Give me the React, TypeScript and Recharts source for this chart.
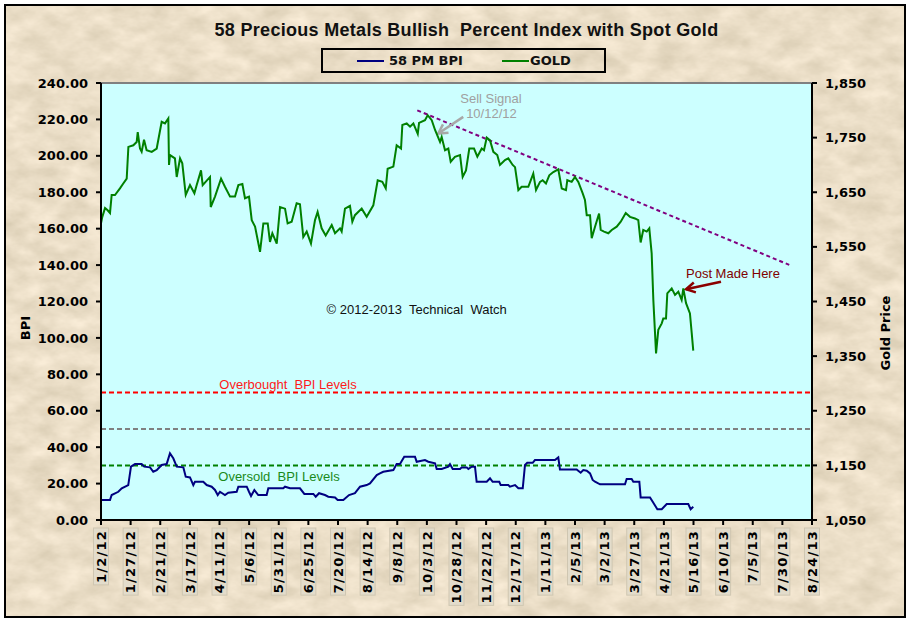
import React from 'react';
import { LineChart, Line, XAxis, YAxis, CartesianGrid, ReferenceLine, ReferenceDot } from 'recharts';

// ---------- data ----------
const titleText = '58 Precious Metals Bullish  Percent Index with Spot Gold';
const seriesNames = ['58 PM BPI', 'GOLD'];

// x axis: days since 1/2/12
const tickDays = [0, 25, 50, 75, 100, 125, 150, 175, 200, 225, 250, 275, 300, 325, 350, 375, 400, 425, 450, 475, 500, 525, 550, 575, 600];
const tickLabels = ['1/2/12', '1/27/12', '2/21/12', '3/17/12', '4/11/12', '5/6/12', '5/31/12', '6/25/12', '7/20/12', '8/14/12', '9/8/12', '10/3/12', '10/28/12', '11/22/12', '12/17/12', '1/11/13', '2/5/13', '3/2/13', '3/27/13', '4/21/13', '5/16/13', '6/10/13', '7/5/13', '7/30/13', '8/24/13'];
const bpiTicks = [0, 20, 40, 60, 80, 100, 120, 140, 160, 180, 200, 220, 240];
const goldTicks = [1050, 1150, 1250, 1350, 1450, 1550, 1650, 1750, 1850];

const goldDays = [0, 1.1, 3.4, 5.6, 7.6, 9.0, 11.8, 16.0, 18.8, 21.7, 23.1, 27.3, 30.1, 31.0, 32.9, 34.3, 36.3, 38.5, 42.8, 47.0, 51.2, 54.0, 56.8, 57.4, 58.2, 62.4, 63.9, 66.7, 68.6, 71.5, 75.1, 78.8, 80.7, 84.4, 85.8, 92.0, 92.6, 96.2, 101.3, 104.6, 108.9, 113.1, 115.9, 119.3, 121.5, 124.9, 127.2, 130.0, 134.2, 137.0, 140.7, 142.6, 144.6, 148.3, 151.1, 155.3, 157.5, 160.9, 165.1, 167.9, 170.7, 173.6, 177.2, 180.6, 182.8, 186.2, 189.6, 194.7, 197.5, 201.7, 203.1, 205.9, 210.1, 212.1, 214.3, 220.0, 224.2, 229.8, 233.5, 237.4, 240.3, 241.9, 246.7, 249.5, 253.2, 254.3, 258.0, 260.8, 263.6, 267.3, 268.4, 273.4, 275.7, 279.1, 281.9, 286.1, 287.5, 290.3, 293.1, 295.1, 298.7, 303.0, 305.2, 308.0, 310.8, 314.8, 317.6, 321.3, 323.2, 325.5, 328.3, 331.1, 334.4, 336.7, 340.9, 343.7, 347.4, 349.4, 352.2, 355.0, 360.6, 364.8, 367.1, 370.5, 372.7, 375.5, 378.3, 381.7, 385.9, 388.8, 392.4, 393.5, 397.2, 400.0, 402.8, 406.5, 408.4, 409.9, 412.7, 414.1, 416.9, 420.3, 421.7, 424.5, 428.1, 431.0, 435.2, 438.6, 442.8, 446.4, 450.6, 453.4, 455.4, 457.6, 460.5, 462.7, 464.7, 466.1, 468.4, 470.3, 473.2, 474.5, 476.8, 477.9, 481.6, 484.4, 487.2, 490.0, 491.4, 493.7, 497.0, 498.5, 499.8];
const goldValues = [1593, 1605, 1621, 1617, 1612, 1645, 1645, 1657, 1666, 1675, 1733, 1736, 1742, 1760, 1730, 1724, 1746, 1727, 1724, 1730, 1779, 1776, 1785, 1700, 1718, 1712, 1678, 1712, 1703, 1645, 1663, 1648, 1663, 1690, 1663, 1678, 1623, 1642, 1675, 1660, 1642, 1642, 1663, 1665, 1639, 1642, 1599, 1587, 1541, 1593, 1593, 1559, 1575, 1556, 1623, 1620, 1593, 1596, 1630, 1628, 1568, 1578, 1556, 1599, 1614, 1584, 1571, 1590, 1575, 1584, 1578, 1620, 1625, 1596, 1608, 1620, 1605, 1626, 1672, 1669, 1657, 1693, 1697, 1736, 1730, 1773, 1776, 1770, 1776, 1757, 1777, 1782, 1791, 1782, 1764, 1742, 1751, 1727, 1730, 1706, 1715, 1718, 1678, 1690, 1730, 1730, 1715, 1730, 1727, 1750, 1745, 1724, 1718, 1700, 1709, 1712, 1700, 1696, 1654, 1660, 1660, 1684, 1654, 1669, 1672, 1666, 1681, 1687, 1692, 1657, 1654, 1672, 1669, 1678, 1669, 1648, 1636, 1608, 1608, 1566, 1587, 1611, 1581, 1578, 1575, 1581, 1587, 1596, 1612, 1605, 1602, 1599, 1558, 1581, 1578, 1584, 1538, 1453, 1355, 1398, 1410, 1419, 1419, 1465, 1474, 1462, 1468, 1453, 1474, 1447, 1428, 1392, 1360];

const bpiDays = [0, 7.6, 9.0, 14.6, 17.5, 23.0, 25.3, 28.7, 34.3, 36.5, 41.4, 44.1, 47.0, 51.2, 55.4, 58.2, 61.0, 63.9, 69.5, 71.5, 75.1, 77.9, 79.3, 86.3, 89.2, 93.4, 96.2, 98.5, 100.4, 104.6, 107.4, 114.5, 115.9, 123.0, 124.9, 126.6, 129.4, 132.7, 139.8, 141.2, 153.8, 155.3, 159.5, 167.9, 171.6, 179.2, 181.2, 184.0, 189.0, 191.8, 197.5, 199.7, 204.5, 209.3, 214.3, 218.6, 224.2, 227.0, 232.7, 235.4, 238.2, 246.7, 249.5, 252.3, 255.9, 265.0, 266.4, 273.4, 276.2, 281.9, 283.3, 287.5, 293.1, 294.5, 296.8, 303.0, 304.4, 308.6, 310.0, 312.8, 315.6, 317.0, 325.5, 328.3, 330.5, 336.1, 337.3, 343.7, 345.1, 349.4, 352.2, 355.9, 357.8, 359.7, 364.3, 366.2, 383.1, 385.9, 387.3, 401.4, 404.8, 407.0, 409.9, 412.7, 414.9, 416.9, 421.1, 442.2, 443.6, 447.8, 449.2, 454.3, 455.4, 463.3, 466.1, 469.5, 473.2, 477.4, 495.6, 497.6, 499.8];
const bpiValues = [11.0, 11.0, 13.7, 15.5, 17.4, 19.2, 29.3, 30.7, 30.7, 29.3, 28.9, 26.5, 27.4, 30.2, 30.7, 36.6, 33.9, 29.3, 28.9, 23.8, 23.4, 19.2, 21.0, 21.0, 19.2, 18.3, 16.5, 13.7, 15.5, 13.7, 15.0, 15.5, 18.3, 18.3, 15.5, 13.2, 16.5, 13.7, 13.7, 17.4, 17.4, 18.3, 17.4, 17.4, 14.3, 14.3, 12.8, 14.7, 13.7, 12.8, 12.4, 11.0, 11.0, 13.7, 14.7, 18.3, 19.2, 20.1, 24.7, 25.6, 26.5, 27.4, 30.7, 30.7, 34.7, 34.7, 32.0, 32.9, 32.0, 31.1, 28.0, 28.0, 29.3, 30.7, 28.0, 28.0, 28.9, 28.9, 28.0, 29.3, 29.3, 21.0, 21.0, 22.9, 21.0, 21.0, 19.2, 19.2, 18.3, 19.2, 17.4, 17.4, 30.2, 31.4, 31.4, 32.9, 32.9, 34.4, 27.8, 27.8, 26.0, 27.4, 27.1, 25.6, 22.0, 21.0, 19.6, 19.6, 22.5, 22.5, 21.0, 21.0, 12.4, 12.4, 9.5, 5.9, 5.9, 8.8, 8.8, 5.9, 7.3];

// BPI reference levels
const overbought = 70;
const neutral = 50;
const oversold = 30;

// gold resistance trend line (day, price)
const trendStart = { x: 266.9, y: 1800 };
const trendEnd = { x: 580.8, y: 1517 };

// ---------- derived tables ----------
const goldData = goldDays.map((d, i) => ({ day: d, gold: goldValues[i] }));
const bpiData = bpiDays.map((d, i) => ({ day: d, bpi: bpiValues[i] }));

const SANS = 'Liberation Sans, Arial, sans-serif';
const VERD = 'DejaVu Sans, Verdana, sans-serif';

const estWidth = (s: string) => {
  let w = 0;
  for (const ch of s) w += (ch === '/' ? 0.365 : 0.696) * 13 + 1.2;
  return w;
};

const XTick = (props: any) => {
  const { x, y, payload } = props;
  const i = tickDays.indexOf(payload.value);
  const label = tickLabels[i] ?? '';
  const w = estWidth(label);
  return (
    <g transform={`translate(${x},${y})`}>
      <rect x={-7.5} y={-2} width={15} height={w + 4} fill="#e3dccb" stroke="#cfc6b1" strokeWidth={1} />
      <text transform="rotate(-90)" x={0} y={0} dy="0.36em" textAnchor="end" fill="#000" fontSize={13}
        fontWeight="bold" fontFamily={VERD} style={{ letterSpacing: '1.2px' }}>{label}</text>
    </g>
  );
};

const textLabel = (value: string, color: string, size = 13) => (p: any) => {
  const vb = p.viewBox || {};
  const cx = (vb.x ?? 0) + (vb.width ?? 0) / 2;
  const cy = (vb.y ?? 0) + (vb.height ?? 0) / 2;
  return (
    <text x={cx} y={cy} textAnchor="middle" dominantBaseline="central" fill={color} fontSize={size}
      fontFamily={SANS} style={{ whiteSpace: 'pre' }}>{value}</text>
  );
};

const arrowShape = (color: string) => (p: any) => {
  const { x1, y1, x2, y2 } = p;
  if ([x1, y1, x2, y2].some((v) => typeof v !== 'number' || isNaN(v))) return <g />;
  const a = Math.atan2(y2 - y1, x2 - x1);
  const L = 9, W = 5;
  const bx = x2 - L * Math.cos(a), by = y2 - L * Math.sin(a);
  const px = -Math.sin(a) * W, py = Math.cos(a) * W;
  return (
    <g>
      <line x1={x1} y1={y1} x2={x2} y2={y2} stroke={color} strokeWidth={2.5} />
      <polyline points={`${bx + px},${by + py} ${x2},${y2} ${bx - px},${by - py}`} fill="none" stroke={color} strokeWidth={2.5} />
    </g>
  );
};

const yTickStyle = { fill: '#000', fontSize: 13, fontWeight: 'bold', fontFamily: VERD } as any;

export default function App() {
  return (
    <div style={{ position: 'absolute', left: 0, top: 0, width: 910, height: 621, background: '#fff', overflow: 'hidden' }}>
      <svg width={910} height={621} style={{ position: 'absolute', left: 0, top: 0 }}>
        <defs>
          <filter id="parch" x="0" y="0" width="100%" height="100%" colorInterpolationFilters="sRGB">
            <feTurbulence type="fractalNoise" baseFrequency="0.035 0.06" numOctaves={4} seed={7} result="n" />
            <feColorMatrix in="n" type="matrix"
              values="0.16 0 0 0 0.84  0.16 0 0 0 0.79  0.18 0 0 0 0.69  0 0 0 0 1" />
          </filter>
        </defs>
        <rect x={5} y={5} width={900} height={612} fill="#ebe0c8" filter="url(#parch)" />
        <rect x={5} y={5} width={900} height={612} fill="none" stroke="#000" strokeWidth={2} />
        <text x={466.5} y={29.5} textAnchor="middle" dominantBaseline="central" fontFamily={SANS} fontWeight="bold"
          fontSize={18} fill="#111" style={{ whiteSpace: 'pre', letterSpacing: '0.3px' }}>{titleText}</text>
      </svg>

      {/* legend */}
      <div style={{
        position: 'absolute', left: 321, top: 48, width: 285, height: 25, boxSizing: 'border-box',
        border: '2px solid #000', fontFamily: VERD, fontWeight: 'bold', fontSize: 13, color: '#111',
      }}>
        <div style={{ position: 'absolute', left: 34, top: 10, width: 27, height: 2, background: '#000080' }} />
        <div style={{ position: 'absolute', left: 66, top: 2, lineHeight: '17px', whiteSpace: 'pre' }}>{seriesNames[0]}</div>
        <div style={{ position: 'absolute', left: 179, top: 10, width: 27, height: 2, background: '#008000' }} />
        <div style={{ position: 'absolute', left: 207, top: 2, lineHeight: '17px', whiteSpace: 'pre' }}>{seriesNames[1]}</div>
      </div>

      <div style={{ position: 'absolute', left: 0, top: 0 }}>
        <LineChart width={910} height={621} margin={{ top: 83, right: 38, bottom: 41, left: 41 }}>
          <CartesianGrid yAxisId="left" horizontal={false} vertical={false} fill="#ccffff" fillOpacity={1} stroke="none" />
          <XAxis dataKey="day" type="number" domain={[0, 600]} ticks={tickDays} interval={0} allowDataOverflow
            height={60} tick={<XTick />} tickSize={5} tickMargin={5}
            axisLine={{ stroke: '#000', strokeWidth: 2 }} tickLine={{ stroke: '#000', strokeWidth: 2 }} />
          <YAxis yAxisId="left" orientation="left" domain={[0, 240]} ticks={bpiTicks} interval={0} width={60}
            tickFormatter={(v: number) => v.toFixed(2)} tick={yTickStyle} tickSize={5} tickMargin={8}
            axisLine={{ stroke: '#000', strokeWidth: 2 }} tickLine={{ stroke: '#000', strokeWidth: 2 }}
            label={(p: any) => (
              <text x={25} y={328} transform="rotate(-90 25 328)" textAnchor="middle" dominantBaseline="central"
                fontFamily={VERD} fontWeight="bold" fontSize={13} fill="#000">BPI</text>
            )} />
          <YAxis yAxisId="right" orientation="right" domain={[1050, 1850]} ticks={goldTicks} interval={0} width={60}
            tickFormatter={(v: number) => v.toLocaleString('en-US')} tick={yTickStyle} tickSize={5} tickMargin={8}
            axisLine={{ stroke: '#000', strokeWidth: 2 }} tickLine={{ stroke: '#000', strokeWidth: 2 }}
            label={(p: any) => (
              <text x={885} y={333} transform="rotate(-90 885 333)" textAnchor="middle" dominantBaseline="central"
                fontFamily={VERD} fontWeight="bold" fontSize={13} fill="#000">Gold Price</text>
            )} />

          <ReferenceLine yAxisId="left" y={240} stroke="#808080" strokeWidth={2} />
          <ReferenceLine yAxisId="left" y={overbought} stroke="#ff0000" strokeWidth={2} strokeDasharray="5 3" />
          <ReferenceLine yAxisId="left" y={neutral} stroke="#808080" strokeWidth={2} strokeDasharray="5 3" />
          <ReferenceLine yAxisId="left" y={oversold} stroke="#008000" strokeWidth={2} strokeDasharray="5 3" />

          <ReferenceLine yAxisId="right" segment={[trendStart, trendEnd]} stroke="#800080" strokeWidth={2}
            strokeDasharray="4 3" ifOverflow="visible" />
          <ReferenceLine yAxisId="right" segment={[{ x: 305.7, y: 1788 }, { x: 284.6, y: 1757.5 }]}
            stroke="#a8a8a8" shape={arrowShape('#a8a8a8')} ifOverflow="visible" />
          <ReferenceLine yAxisId="right" segment={[{ x: 523.2, y: 1486 }, { x: 493.7, y: 1472.3 }]}
            stroke="#8b0000" shape={arrowShape('#8b0000')} ifOverflow="visible" />

          <Line yAxisId="left" data={bpiData} dataKey="bpi" type="linear" stroke="#000080" strokeWidth={2}
            dot={false} activeDot={false} isAnimationActive={false} />
          <Line yAxisId="right" data={goldData} dataKey="gold" type="linear" stroke="#008000" strokeWidth={2}
            dot={false} activeDot={false} isAnimationActive={false} />

          <ReferenceDot yAxisId="left" x={157.8} y={74.4} r={0.5} fill="none" stroke="none"
            label={textLabel('Overbought  BPI Levels', '#ff1a1a')} />
          <ReferenceDot yAxisId="left" x={150.2} y={23.8} r={0.5} fill="none" stroke="none"
            label={textLabel('Oversold  BPI Levels', '#1a8a1a')} />
          <ReferenceDot yAxisId="left" x={266.4} y={115.8} r={0.5} fill="none" stroke="none"
            label={textLabel('© 2012-2013  Technical  Watch', '#111')} />
          <ReferenceDot yAxisId="right" x={329.1} y={1821.5} r={0.5} fill="none" stroke="none"
            label={textLabel('Sell Signal', '#a0a0a0')} />
          <ReferenceDot yAxisId="right" x={329.5} y={1794} r={0.5} fill="none" stroke="none"
            label={textLabel('10/12/12', '#a0a0a0')} />
          <ReferenceDot yAxisId="right" x={533.3} y={1501.6} r={0.5} fill="none" stroke="none"
            label={textLabel('Post Made Here', '#800000')} />
        </LineChart>
      </div>
    </div>
  );
}
